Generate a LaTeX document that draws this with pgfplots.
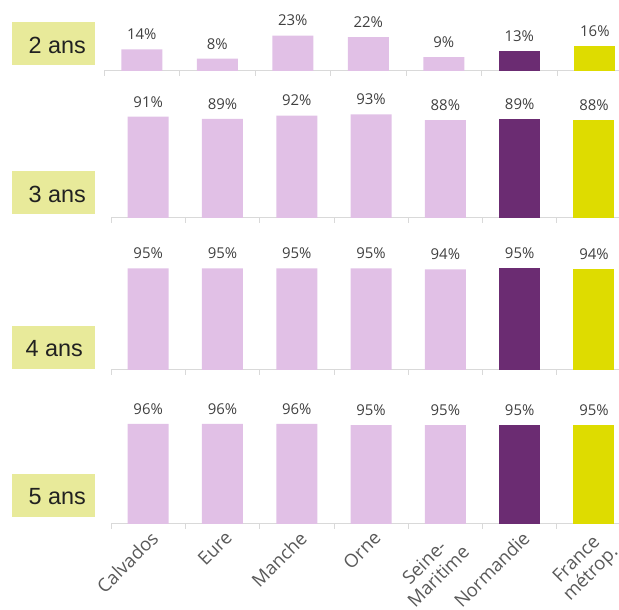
\documentclass[border=0pt]{standalone}
\usepackage{pgfplots}
\pgfplotsset{compat=1.18}
\usepackage{fontspec}
\setmainfont{Open Sans}
\newfontfamily\boxfont{Liberation Sans}
\definecolor{pinkbar}{RGB}{225,192,230}
\definecolor{purplebar}{RGB}{107,44,114}
\definecolor{yellowbar}{RGB}{222,220,0}
\definecolor{boxfill}{RGB}{232,234,154}
\definecolor{axisgray}{RGB}{217,217,217}
\definecolor{labelgray}{RGB}{64,64,64}
\definecolor{tickgray}{RGB}{89,89,89}
\definecolor{boxtext}{RGB}{33,33,33}

\pgfplotsset{
 panel/.style={
  scale only axis,
  anchor=south west,
  width=508bp,
  xmin=-0.5, xmax=6.337,
  ymin=0,
  hide y axis,
  axis x line*=bottom,
  axis line style={draw=axisgray, line width=1bp, -},
  xtick={0,...,6},
  major x tick style={draw=none},
  minor xtick={-0.5,0.5,...,6.5},
  minor x tick style={draw=axisgray, line width=0.8bp},
  minor tick length=5bp,
  tick align=outside,
  xticklabels={},
  ybar, bar width=41bp, bar shift=0pt,
  clip=false,
  nodes near coords={\pgfmathprintnumber{\pgfplotspointmeta}\%},
  /pgf/number format/assume math mode=true,
  /pgf/number format/fixed, /pgf/number format/precision=0,
  every node near coord/.append style={anchor=center, yshift=15bp, font=\fontsize{15}{16}\selectfont, text=labelgray},
 },
 pinkb/.style={fill=pinkbar, draw=none},
 purpb/.style={fill=purplebar, draw=none},
 yelb/.style={fill=yellowbar, draw=none},
}

\begin{document}
\begin{tikzpicture}[x=1bp,y=1bp]
\useasboundingbox (0,0) rectangle (619,610);

% panel 1 : 2 ans
\begin{axis}[panel, at={(104bp,539bp)}, width=515bp, xmax=6.32, ymax=30, height=46.2bp]
\addplot[pinkb] coordinates {(0,14) (1,8) (2,23) (3,22) (4,9)};
\addplot[purpb] coordinates {(5,13)};
\addplot[yelb] coordinates {(6,16)};
\end{axis}

% panel 2 : 3 ans
\begin{axis}[panel, at={(111bp,392bp)}, ymax=100, height=111.3bp]
\addplot[pinkb] coordinates {(0,91) (1,89) (2,92) (3,93) (4,88)};
\addplot[purpb] coordinates {(5,89)};
\addplot[yelb] coordinates {(6,88)};
\end{axis}

% panel 3 : 4 ans
\begin{axis}[panel, at={(111bp,240bp)}, ymax=100, height=107bp]
\addplot[pinkb] coordinates {(0,95) (1,95) (2,95) (3,95) (4,94)};
\addplot[purpb] coordinates {(5,95)};
\addplot[yelb] coordinates {(6,94)};
\end{axis}

% panel 4 : 5 ans
\begin{axis}[panel, at={(111bp,86bp)}, ymax=100, height=104.2bp,
  xticklabels={Calvados, Eure, Manche, Orne, {Seine-\\Maritime}, Normandie, {France\\métrop.}},
  xticklabel style={rotate=45, anchor=north east, align=center, font=\fontsize{18.5}{20}\selectfont, text=tickgray, inner sep=2bp, xshift=2bp}]
\addplot[pinkb] coordinates {(0,96) (1,96) (2,96) (3,95) (4,95)};
\addplot[purpb] coordinates {(5,95)};
\addplot[yelb] coordinates {(6,95)};
\end{axis}

% row labels
\fill[boxfill] (12,545) rectangle (95,588);
\node[anchor=east, inner sep=0, font=\boxfont\fontsize{23.5}{24}\selectfont, text=boxtext] at (86,565) {2 ans};
\fill[boxfill] (12,396) rectangle (95,439);
\node[anchor=east, inner sep=0, font=\boxfont\fontsize{23.5}{24}\selectfont, text=boxtext] at (86,416) {3 ans};
\fill[boxfill] (12,241) rectangle (95,284);
\node[anchor=east, inner sep=0, font=\boxfont\fontsize{23.5}{24}\selectfont, text=boxtext] at (83,261) {4 ans};
\fill[boxfill] (12,93) rectangle (95,136);
\node[anchor=east, inner sep=0, font=\boxfont\fontsize{23.5}{24}\selectfont, text=boxtext] at (86,113) {5 ans};
\end{tikzpicture}
\end{document}
